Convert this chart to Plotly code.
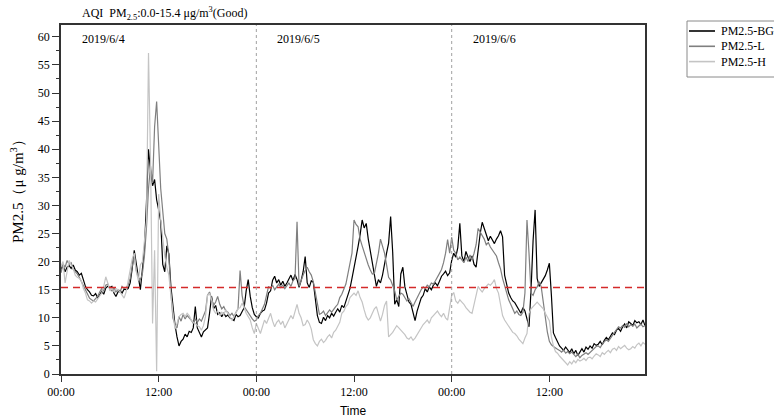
import pandas as pd
import plotly.graph_objects as go

# 15-minute readings starting 2019-06-04 00:00 (4 values per hour, 72 hours)
pm_bg = [
    18.6, 19.4, 18.2, 19.0,  19.3, 18.8, 19.4, 18.5,  18.2, 17.6, 17.9, 16.7,  15.6, 15.0, 14.6, 14.0,
    13.9, 14.3, 13.6, 14.1,  14.7, 14.2, 15.3, 15.6,  15.4, 15.6, 14.4, 13.8,  14.6, 14.9, 14.4, 15.1,
    15.0, 15.2, 16.2, 18.8,  22.0, 19.6, 16.8, 15.0,  18.6, 22.2, 30.5, 40.0,  36.2, 33.5, 34.6, 31.0,
    29.2, 27.2, 19.5, 18.2,  22.8, 21.4, 15.6, 12.0,  8.8, 6.6, 5.0, 5.8,      6.2, 7.1, 6.6, 7.6,
    7.4, 8.2, 12.0, 8.2,     7.3, 6.6, 7.5, 7.9,      8.2, 10.8, 13.8, 11.6,  12.2, 10.6, 10.9, 10.2,
    10.8, 10.2, 10.5, 10.0,  9.8, 9.5, 10.6, 10.2,    10.4, 11.2, 11.8, 14.8,  16.8, 13.8, 11.8, 10.6,
    10.2, 10.0, 10.8, 11.2,  11.4, 12.6, 14.4, 14.8,  16.7, 17.4, 16.2, 16.8,  15.8, 16.5, 15.6, 16.2,
    16.8, 17.6, 16.6, 17.7,  16.8, 15.4, 16.6, 18.2,  20.9, 16.2, 15.4, 16.6,  16.3, 12.8, 10.4, 9.2,
    9.0, 10.1, 9.5, 10.4,    10.0, 10.8, 10.3, 11.0,  11.6, 11.0, 12.2, 11.8,  12.9, 13.8, 15.2, 17.0,
    18.8, 20.5, 22.7, 24.8,  27.4, 26.0, 26.8, 24.0,  21.7, 19.5, 17.4, 15.6,  16.8, 16.2, 17.6, 19.8,
    21.5, 23.3, 28.0, 21.7,  12.4, 13.2, 12.0, 17.8,  19.0, 15.5, 13.9, 12.8,  12.4, 11.0, 9.5, 11.2,
    12.4, 13.5, 14.0, 15.2,  14.6, 15.5, 15.0, 15.8,  16.2, 15.7, 16.5, 17.4,  17.8, 18.3, 17.5, 18.0,
    20.2, 21.5, 20.8, 22.5,  26.8, 21.0, 20.0, 21.8,  20.8, 20.0, 21.0, 19.5,  19.0, 22.5, 25.0, 27.0,
    26.0, 25.0, 23.7, 24.5,  23.8, 23.2, 24.0, 24.6,  25.5, 24.4, 17.6, 16.0,  14.4, 13.6, 13.0, 12.7,
    12.0, 11.5, 10.8, 11.8,  11.2, 9.8, 8.4, 15.0,    23.7, 29.2, 17.0, 15.6,  16.2, 16.8, 17.5, 18.5,
    19.7, 14.0, 7.3, 6.5,    5.8, 5.0, 4.6, 4.2,      4.8, 4.2, 3.8, 4.5,      3.6, 4.2, 3.3, 3.9,
    4.5, 3.9, 4.8, 4.4,      5.0, 4.6, 5.4, 5.1,      5.3, 5.8, 5.2, 6.0,      6.5, 6.1, 6.8, 7.3,
    7.0, 7.8, 8.1, 7.6,      8.4, 8.9, 8.2, 9.3,      9.0, 8.6, 9.5, 9.1,      9.3, 8.8, 9.6, 8.6,
]

pm_l = [
    18.0, 19.6, 19.0, 20.2,  19.5, 19.8, 18.6, 18.2,  17.8, 17.2, 16.4, 15.6,  14.8, 14.0, 13.5, 13.2,
    13.0, 13.4, 13.8, 14.6,  15.2, 14.8, 15.8, 16.0,  15.2, 14.8, 15.4, 14.6,  15.0, 14.5, 15.6, 15.2,
    15.4, 15.8, 17.0, 19.2,  21.0, 18.4, 17.2, 16.8,  17.8, 21.0, 26.0, 33.0,  37.0, 34.0, 44.0, 48.5,
    40.0, 33.0, 29.0, 25.0,  24.0, 21.0, 14.5, 10.0,  8.8, 8.2, 10.2, 9.4,    10.6, 9.8, 10.4, 10.0,
    9.6, 9.0, 9.8, 9.2,      9.8, 9.4, 10.4, 11.2,    14.0, 14.6, 13.4, 12.2,  12.8, 13.8, 12.4, 11.6,
    12.0, 11.2, 11.0, 10.4,  10.8, 10.2, 11.0, 11.6,  18.4, 14.0, 12.0, 11.4,  11.0, 10.2, 9.8, 9.4,
    9.6, 10.4, 10.8, 11.6,   12.4, 14.0, 15.6, 15.2,  15.8, 15.0, 15.6, 16.0,  15.4, 15.8, 15.2, 15.8,
    16.2, 15.6, 16.6, 17.0,  27.1, 15.6, 16.8, 17.6,  18.4, 19.0, 18.2, 17.6,  16.4, 14.4, 12.0, 10.6,
    10.8, 11.2, 10.4, 10.8,  11.4, 11.0, 11.6, 12.0,  12.4, 13.6, 14.2, 15.0,  16.0, 17.8, 19.6, 21.5,
    27.4, 26.6, 26.2, 24.0,  22.8, 21.6, 20.6, 19.4,  18.5, 17.8, 17.9, 19.6,  21.5, 24.0, 22.6, 21.5,
    19.4, 17.2, 16.7, 15.6,  14.8, 13.2, 13.8, 14.4,  14.2, 13.6, 13.0, 13.4,  12.6, 12.0, 12.8, 13.6,
    14.4, 15.0, 15.5, 15.2,  15.8, 15.5, 16.2, 16.0,  16.6, 17.4, 17.9, 18.6,  19.8, 21.5, 23.9, 21.5,
    24.3, 22.0, 21.5, 20.3,  20.8, 20.3, 19.8, 20.8,  20.0, 21.2, 20.3, 21.5,  23.0, 25.9, 25.2, 24.6,
    24.0, 23.0, 23.4, 22.6,  22.0, 21.5, 21.0, 19.8,  18.7, 17.0, 15.6, 14.4,  13.2, 12.4, 11.6, 10.8,
    11.2, 10.6, 10.4, 11.0,  14.4, 27.4, 21.5, 14.4,  14.0, 15.0, 15.5, 16.4,  15.5, 13.0, 9.6, 7.5,
    5.8, 5.2, 4.9, 4.6,      4.4, 4.2, 3.9, 4.3,      3.7, 4.0, 3.6, 3.9,      3.4, 3.1, 3.5, 2.9,
    3.3, 3.6, 3.8, 3.5,      3.9, 4.2, 4.6, 4.9,      5.0, 4.7, 5.3, 5.8,      6.1, 5.8, 6.4, 7.0,
    7.4, 7.9, 8.4, 8.2,      8.6, 8.3, 9.0, 8.4,      8.8, 8.5, 8.9, 8.2,      8.5, 8.9, 8.4, 8.6,
]

pm_h = [
    19.2, 20.0, 16.2, 18.4,  20.2, 19.4, 18.8, 17.6,  17.2, 17.0, 16.6, 15.2,  14.4, 13.2, 13.0, 12.6,
    13.0, 12.8, 13.4, 13.8,  14.4, 15.6, 17.3, 16.2,  14.8, 15.4, 14.6, 15.2,  15.0, 14.6, 14.0, 13.5,
    14.6, 16.8, 18.5, 20.5,  21.5, 18.2, 16.6, 19.4,  20.0, 24.0, 27.4, 57.1,  38.0, 9.0, 22.0, 0.5,
    32.0, 27.5, 24.0, 21.0,  19.0, 17.6, 14.0, 11.0,  8.0, 9.0, 10.2, 10.6,   10.8, 10.2, 10.8, 10.4,
    9.6, 9.2, 9.0, 8.6,      8.4, 7.8, 8.6, 10.2,     14.0, 14.4, 13.2, 11.4,  10.8, 11.2, 10.4, 11.0,
    10.6, 11.4, 10.8, 10.0,  9.6, 10.2, 11.0, 11.6,   11.8, 12.6, 11.8, 10.8,  10.2, 9.6, 8.2, 7.2,
    9.0, 8.0, 7.2, 8.4,      9.6, 9.0, 9.8, 10.8,     9.4, 8.4, 9.2, 9.6,      8.8, 9.4, 8.2, 8.9,
    9.6, 10.4, 9.8, 11.0,    12.4, 10.8, 10.0, 8.6,   8.8, 9.6, 9.0, 8.0,      6.1, 5.4, 5.0, 5.8,
    6.2, 5.6, 6.0, 6.6,      7.0, 6.4, 7.4, 7.8,      8.4, 9.2, 10.8, 11.2,    12.0, 12.4, 13.6, 14.0,
    14.4, 14.0, 14.8, 13.6,  12.8, 11.4, 10.2, 9.6,   10.0, 10.8, 11.6, 12.0,  10.6, 9.4, 10.6, 12.2,
    13.0, 6.6, 7.0, 7.4,     8.0, 8.6, 8.2, 7.8,      7.4, 7.0, 6.4, 6.2,      6.6, 6.0, 6.4, 7.0,
    7.8, 8.4, 8.8, 9.2,      9.6, 9.0, 10.0, 10.4,    10.8, 11.2, 10.6, 10.2,  10.8, 10.0, 9.6, 12.2,
    14.0, 14.5, 13.0, 12.6,  13.2, 12.8, 12.4, 11.8,  11.4, 11.0, 10.8, 12.4,  14.0, 15.6, 15.0, 14.6,
    15.2, 15.6, 16.0, 15.8,  16.2, 16.8, 15.2, 14.4,  12.6, 10.4, 9.6, 9.0,    8.6, 8.0, 7.4, 7.2,
    6.8, 6.2, 5.8, 5.4,      6.4, 7.2, 10.8, 11.6,    12.0, 12.4, 12.8, 12.4,  12.0, 11.6, 10.8, 10.2,
    9.5, 6.6, 5.0, 4.0,      3.7, 3.2, 2.8, 2.4,      1.9, 1.6, 2.2, 1.8,      2.4, 2.0, 2.6, 2.3,
    2.5, 2.8, 2.4, 2.9,      3.0, 2.7, 3.2, 3.6,      3.4, 3.1, 3.8, 3.5,      3.9, 4.2, 3.8, 4.4,
    4.6, 4.2, 4.9, 4.5,      4.8, 5.1, 4.6, 4.3,      4.5, 4.9, 4.6, 5.2,      5.5, 5.0, 5.6, 5.3,
]

series_names = ["PM2.5-BG", "PM2.5-L", "PM2.5-H"]
series_colors = ["#000000", "#7f7f7f", "#c4c4c4"]
day_labels = ["2019/6/4", "2019/6/5", "2019/6/6"]
aqi_good_limit = 15.4

start = pd.Timestamp("2019-06-04 00:00")
times = pd.date_range(start, periods=len(pm_bg), freq="15min")
x_end = start + pd.Timedelta(hours=71.75)

W, H = 774, 420
ML, MR, MT, MB = 61, 129, 25, 46
PW, PH = W - ML - MR, H - MT - MB

def px_x(px):
    """pixel column -> paper x"""
    return (px - ML) / PW

def px_y(py):
    """pixel row -> paper y"""
    return (H - MB - py) / PH

SERIF = "Liberation Serif, Times New Roman, serif"
SANS = "Liberation Sans, Arial, sans-serif"

fig = go.Figure()
for name, vals, col in zip(series_names, [pm_bg, pm_l, pm_h], series_colors):
    fig.add_trace(go.Scatter(x=times, y=vals, mode="lines", name=name, showlegend=False,
                             line=dict(color=col, width=1.2)))

# AQI "Good" upper bound
fig.add_shape(type="line", xref="paper", x0=0, x1=1, yref="y",
              y0=aqi_good_limit, y1=aqi_good_limit,
              line=dict(color="#d42a2a", width=1.6, dash="7px,5px"))

# day separators and day labels
for i, lab in enumerate(day_labels):
    day0 = start + pd.Timedelta(days=i)
    if i > 0:
        fig.add_shape(type="line", xref="x", x0=day0, x1=day0, yref="paper", y0=0, y1=1,
                      line=dict(color="#a0a0a0", width=1, dash="dot"))
    fig.add_annotation(x=day0 + pd.Timedelta(hours=2.35), y=59.6, xref="x", yref="y",
                       text=lab, showarrow=False, xanchor="left", yanchor="middle",
                       font=dict(family=SERIF, size=12, color="#000"))

fig.add_annotation(xref="paper", yref="paper", x=px_x(80), y=px_y(13),
                   text="AQI  PM<sub>2.5</sub>:0.0-15.4 μg/m<sup>3</sup>(Good)",
                   showarrow=False, xanchor="left", yanchor="middle",
                   font=dict(family=SERIF, size=12, color="#000"))

# y-axis title
fig.add_annotation(xref="paper", yref="paper", x=px_x(17), y=px_y(188),
                   text="PM2.5（μ g/m<sup>3</sup>）", textangle=-90, showarrow=False,
                   xanchor="center", yanchor="middle",
                   font=dict(family=SERIF, size=15, color="#000"))

# legend box with line samples
leg_left, leg_top, leg_bottom = 687, 21, 77
fig.add_shape(type="rect", xref="paper", yref="paper",
              x0=px_x(leg_left), x1=px_x(W + 10), y0=px_y(leg_bottom), y1=px_y(leg_top),
              line=dict(color="#8a8a8a", width=1), fillcolor="white", layer="above")
for k, (name, col) in enumerate(zip(series_names, series_colors)):
    row = 31 + 15.3 * k
    fig.add_shape(type="line", xref="paper", yref="paper",
                  x0=px_x(leg_left + 2), x1=px_x(leg_left + 28), y0=px_y(row), y1=px_y(row),
                  line=dict(color=col, width=1.6), layer="above")
    fig.add_annotation(xref="paper", yref="paper", x=px_x(leg_left + 32), y=px_y(row),
                       text=name, showarrow=False, xanchor="left", yanchor="middle",
                       font=dict(family=SERIF, size=12, color="#000"))

tick_vals = [start + pd.Timedelta(hours=12 * k) for k in range(6)]
fig.update_xaxes(
    range=[start, x_end], tickvals=tick_vals, tickformat="%H:%M", automargin=False,
    showgrid=False, zeroline=False, showline=True, linecolor="#333", linewidth=1.5,
    mirror=True, ticks="outside", ticklen=6, tickcolor="#333",
    tickfont=dict(family=SERIF, size=12, color="#000"),
    title=dict(text="Time", font=dict(family=SANS, size=12, color="#000"), standoff=8),
)
fig.update_yaxes(
    range=[0, 62.1], tickvals=list(range(0, 61, 5)), automargin=False,
    showgrid=False, zeroline=False, showline=True, linecolor="#333", linewidth=1.5,
    mirror=True, ticks="outside", ticklen=7, tickcolor="#333",
    minor=dict(dtick=2.5, ticks="outside", ticklen=3, tickcolor="#333"),
    tickfont=dict(family=SERIF, size=12, color="#000"),
)

fig.update_layout(
    width=W, height=H,
    margin=dict(l=ML, r=MR, t=MT, b=MB, autoexpand=False),
    paper_bgcolor="white", plot_bgcolor="white",
    showlegend=False,
)

fig.write_html("out.html")
